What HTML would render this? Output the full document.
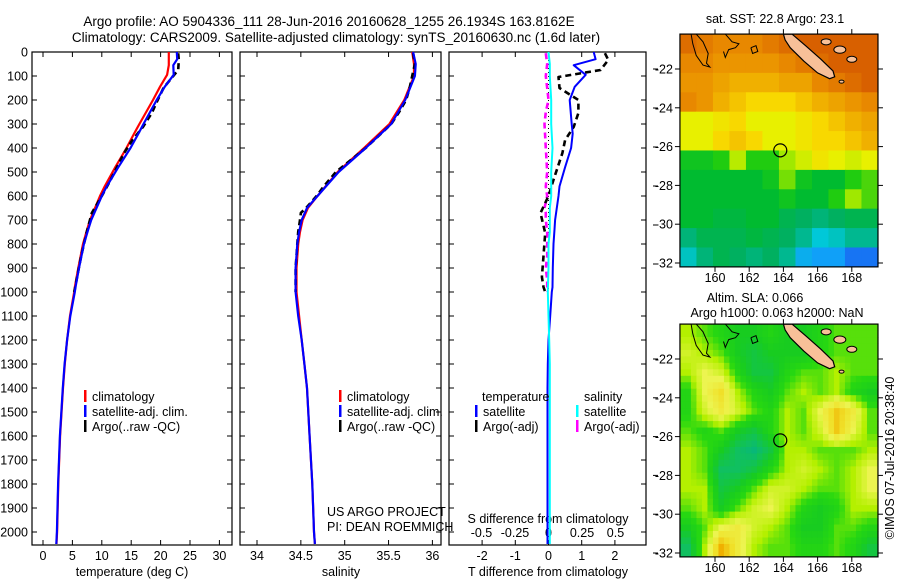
<!DOCTYPE html>
<html><head><meta charset="utf-8"><style>
html,body{margin:0;padding:0;background:#fff;}
svg{display:block;font-family:"Liberation Sans",sans-serif;}
</style></head><body>
<svg id="fig" width="900" height="580" viewBox="0 0 900 580" xmlns="http://www.w3.org/2000/svg">
<g font-size="13.5" text-anchor="middle">
<text x="329" y="26">Argo profile: AO 5904336_111 28-Jun-2016 20160628_1255 26.1934S 163.8162E</text>
<text x="336" y="42">Climatology: CARS2009. Satellite-adjusted climatology: synTS_20160630.nc (1.6d later)</text>
</g>
<g id="layer"></g>
</svg>
<script>
// ---- profile data ----
const tDepth = [0,30,55,95,145,200,300,340,400,480,560,600,700,740,800,900,980,1000,1100,1200,1300,1400,1600,1800,2000,2050];
const tempClim = [21.4,21.4,21.4,21.1,19.9,18.7,16.4,15.5,14.2,12.3,10.5,9.7,8.0,7.5,6.8,6.0,5.4,5.3,4.6,4.1,3.7,3.4,2.9,2.6,2.4,2.3];
const tDiffSat = [1.36,1.42,0.76,1.12,0.79,0.64,0.70,0.73,0.68,0.5,0.33,0.3,0.2,0.18,0.15,0.13,0.12,0.1,0.05,0.0,-0.02,-0.03,-0.03,-0.03,-0.03,-0.03];
const argoDepth = [5,33,75,104,150,200,254,312,367,421,533,600,671,754,850,937,979,1000];
const argoTemp = [23.0,23.1,23.0,22.0,20.5,19.5,18.5,17.0,15.2,13.8,11.5,10.0,8.3,7.4,6.5,5.8,5.5,5.3];
const argoTDiff = [1.7,1.8,1.57,0.3,0.33,0.9,0.9,0.76,0.5,0.42,0.15,0.0,-0.24,-0.1,-0.15,-0.2,-0.15,-0.1];
const sDepth = [0,50,100,200,300,400,500,600,650,700,750,800,900,1000,1100,1200,1300,1400,1600,1800,2000,2050];
const salClim = [35.77,35.79,35.79,35.68,35.51,35.22,34.92,34.69,34.58,34.52,34.49,34.47,34.45,34.45,34.48,34.51,34.54,34.57,34.60,34.63,34.65,34.66];
const salSat = [35.78,35.81,35.80,35.69,35.53,35.24,34.93,34.69,34.57,34.51,34.48,34.46,34.44,34.44,34.47,34.51,34.54,34.57,34.60,34.63,34.65,34.66];
const sDiffSat = [0.0,0.01,0.01,0.02,0.02,0.03,0.02,0.02,0.01,0.01,0.01,0.0,0.0,-0.005,0.0,0.005,0.01,0.01,0.01,0.01,0.01,0.01];
const argoSDepth = [5,50,100,150,200,250,300,400,500,560,600,650,670,700,750,800,850,900,950,1000];
const argoSal = [35.78,35.80,35.77,35.74,35.70,35.62,35.53,35.24,34.90,34.76,34.68,34.56,34.50,34.49,34.47,34.46,34.45,34.44,34.44,34.44];
const argoSDiff = [-0.02,-0.01,-0.02,-0.01,0.0,-0.02,-0.03,-0.02,-0.01,-0.02,-0.01,-0.03,-0.02,-0.02,-0.01,-0.01,-0.01,-0.02,-0.01,-0.01];
const depthTicks = [0,100,200,300,400,500,600,700,800,900,1000,1100,1200,1300,1400,1500,1600,1700,1800,1900,2000];
const tempTicks = [0,5,10,15,20,25,30];
const salTicks = [34,34.5,35,35.5,36];
const salTickLabels = ["34","34.5","35","35.5","36"];
const tdTicks = [-2,-1,0,1,2];
const sdTicks = [-0.5,-0.25,0,0.25,0.5];
const sdTickLabels = ["-0.5","-0.25","0","0.25","0.5"];
// ---- map data ----
const sstGrid = [
[23.7,23.6,23.5,23.5,23.5,23.6,23.7,23.8,23.8,23.8,23.8,23.8],
[23.5,23.5,23.4,23.4,23.4,23.4,23.5,23.6,23.7,23.8,23.8,23.8],
[23.4,23.4,23.3,23.2,23.2,23.2,23.3,23.3,23.5,23.6,23.7,23.8],
[23.5,23.4,23.2,23.1,23.0,23.0,23.0,23.1,23.2,23.3,23.4,23.5],
[22.8,22.8,22.9,23.0,22.8,22.8,22.8,22.9,23.0,23.1,23.2,23.3],
[22.8,22.8,23.0,23.1,23.0,22.8,22.8,22.9,23.0,23.0,23.1,23.2],
[22.1,22.1,22.2,22.6,22.2,22.2,22.5,22.7,22.9,22.8,22.7,22.8],
[22.0,22.0,22.0,22.0,22.0,22.1,22.4,22.1,22.0,22.0,22.2,22.3],
[22.0,22.0,22.0,22.0,22.0,22.0,22.1,22.0,22.0,22.2,22.5,22.3],
[22.0,22.0,21.9,21.9,22.0,22.0,21.8,21.7,21.6,21.7,21.8,21.8],
[21.6,21.8,21.8,21.8,21.9,21.8,21.7,21.5,21.2,21.3,21.5,21.5],
[21.3,21.6,21.8,21.7,21.6,21.7,21.5,21.0,20.9,20.9,20.7,20.7]];
const slaGrid = [
[0.07,0.06,0.05,0.04,0.04,0.05,0.04,0.04,0.05,0.06,0.06,0.06],
[0.08,0.07,0.06,0.04,0.03,0.04,0.04,0.04,0.05,0.06,0.06,0.06],
[0.07,0.09,0.08,0.05,0.03,0.03,0.05,0.06,0.06,0.07,0.06,0.06],
[0.05,0.09,0.11,0.07,0.05,0.04,0.06,0.07,0.06,0.07,0.05,0.04],
[0.05,0.08,0.10,0.08,0.06,0.05,0.07,0.06,0.09,0.12,0.10,0.06],
[0.06,0.05,0.06,0.04,0.03,0.05,0.07,0.06,0.08,0.12,0.09,0.06],
[0.07,0.06,0.04,0.02,0.01,0.03,0.07,0.07,0.06,0.06,0.06,0.07],
[0.07,0.06,0.02,0.02,0.03,0.05,0.07,0.08,0.07,0.06,0.07,0.09],
[0.07,0.07,0.03,0.04,0.06,0.08,0.08,0.07,0.06,0.06,0.07,0.09],
[0.06,0.07,0.04,0.06,0.08,0.09,0.07,0.05,0.04,0.05,0.07,0.07],
[0.04,0.06,0.09,0.10,0.08,0.07,0.06,0.04,0.04,0.06,0.06,0.05],
[0.02,0.07,0.13,0.10,0.07,0.06,0.06,0.05,0.05,0.06,0.05,0.03]];
const lonTicks = [160,162,164,166,168];
const latTicks = [-22,-24,-26,-28,-30,-32];
const argoLon = 163.8162, argoLat = -26.1934;

const NS = "http://www.w3.org/2000/svg";
const L = document.getElementById('layer');
function mk(tag, attrs, parent){ const e=document.createElementNS(NS,tag); for(const k in attrs) e.setAttribute(k,attrs[k]); (parent||L).appendChild(e); return e; }
function txt(x,y,s,size,anchor,parent){ const t=mk('text',{x:x,y:y,'font-size':size||12.5,'text-anchor':anchor||'middle'},parent); t.textContent=s; return t; }

const yD = d => 52 + d*0.24;
const PY0=52, PY1=545;
const panels = [
 {name:'temperature-panel', x0:32, x1:232, f:v=>43+v*5.88},
 {name:'salinity-panel', x0:240, x1:441, f:v=>257+(v-34)*87.7},
 {name:'difference-panel', x0:449, x1:646, f:v=>548.5+v*33.2}
];
const sdX = v => 548.5+v*134;

function line(xs, ds, fx, color, w, dash, name){
  let p=''; for(let i=0;i<xs.length;i++) p+=(i?'L':'M')+fx(xs[i]).toFixed(1)+','+yD(ds[i]).toFixed(1);
  const e=mk('path',{d:p,fill:'none',stroke:color,'stroke-width':w,'stroke-linejoin':'round'});
  if(dash) e.setAttribute('stroke-dasharray',dash);
  
  
}

panels.forEach((P,pi)=>{
  const g=mk('g',{});
  
  
  const r=mk('rect',{x:P.x0,y:PY0,width:P.x1-P.x0,height:PY1-PY0,fill:'#fff',stroke:'#000','stroke-width':1.2},g);
  
  
  depthTicks.forEach(d=>{
    mk('line',{x1:P.x0,x2:P.x0+5,y1:yD(d),y2:yD(d),stroke:'#000'},g);
    mk('line',{x1:P.x1,x2:P.x1-5,y1:yD(d),y2:yD(d),stroke:'#000'},g);
  });
});
depthTicks.forEach(d=>{
  const t=txt(28,yD(d)+4.5,String(d),12.5,'end');
  
  
});
latTicks.forEach((la,i)=>{ mk('line',{x1:653,x2:658,y1:69+i*39,y2:69+i*39,stroke:'#000'}); });
[0,1,2,3,4,5].forEach(i=>{ mk('line',{x1:653,x2:658,y1:359+i*38.8,y2:359+i*38.8,stroke:'#000'}); });

function xTicks(ticks, labels, fx, y, name){
  ticks.forEach((v,i)=>{
    const x=fx(v);
    mk('line',{x1:x,x2:x,y1:PY1,y2:PY1-5,stroke:'#000'});
    mk('line',{x1:x,x2:x,y1:PY0,y2:PY0+5,stroke:'#000'});
    const t=txt(x,y,labels[i],12.5,'middle');
    
    
  });
}
xTicks(tempTicks, tempTicks.map(String), panels[0].f, 560, 'temperature-tick-label');
xTicks(salTicks, salTickLabels, panels[1].f, 560, 'salinity-tick-label');
xTicks(tdTicks, tdTicks.map(String), panels[2].f, 560, 'tdiff-tick-label');
sdTicks.forEach((v,i)=>{
  const t=txt(sdX(v),537,sdTickLabels[i],12.5,'middle');
  
  
});
[['temperature (deg C)',132],['salinity',341],['T difference from climatology',548]].forEach(a=>{
  const t=txt(a[1],576,a[0],12.5,'middle');
  
  
});
{const t=txt(548,523,'S difference from climatology',12.5,'middle');

}

const tempSat = tempClim.map((v,i)=>v+tDiffSat[i]);
line(tempClim, tDepth, panels[0].f, '#f00', 2.2, null, 'temp-climatology-line');
line(argoTemp, argoDepth, panels[0].f, '#000', 2.6, '6,4', 'temp-argo-line');
line(tempSat, tDepth, panels[0].f, '#00f', 2.2, null, 'temp-satellite-line');
line(salClim, sDepth, panels[1].f, '#f00', 2.2, null, 'sal-climatology-line');
line(argoSal, argoSDepth, panels[1].f, '#000', 2.6, '6,4', 'sal-argo-line');
line(salSat, sDepth, panels[1].f, '#00f', 2.2, null, 'sal-satellite-line');
{const z=mk('line',{x1:548.5,x2:548.5,y1:PY0,y2:yD(1000),stroke:'#000','stroke-dasharray':'1,3'});

}
line(argoSDiff, argoSDepth, sdX, '#f0f', 2.6, '6,4', 'sdiff-argo-line');
line(argoTDiff, argoDepth, panels[2].f, '#000', 2.6, '6,4', 'tdiff-argo-line');
line(tDiffSat, tDepth, panels[2].f, '#00f', 2, null, 'tdiff-satellite-line');
line(sDiffSat, sDepth, sdX, '#0ff', 2, null, 'sdiff-satellite-line');

function leg(x,y,color,label){
  const g=mk('g',{});
  
  
  mk('rect',{x:x,y:y-11,width:2.5,height:12,fill:color},g);
  txt(x+8,y,label,12.5,'start',g);
}
[84,339].forEach(x=>{
  leg(x,401,'#f00','climatology');
  leg(x,416,'#00f','satellite-adj. clim.');
  leg(x,431,'#000','Argo(..raw -QC)');
});
{const t=txt(482,401,'temperature',12.5,'start');  }
{const t=txt(584,401,'salinity',12.5,'start');  }
leg(475,416,'#00f','satellite');
leg(475,431,'#000','Argo(-adj)');
leg(576,416,'#0ff','satellite');
leg(576,431,'#f0f','Argo(-adj)');
{const t=txt(327,516,'US ARGO PROJECT',12.5,'start');  }
{const t=txt(327,531,'PI: DEAN ROEMMICH',12.5,'start');  }

// ---- maps ----
const sstStops=[[20.6,[26,94,240]],[20.9,[16,160,248]],[21.2,[0,200,216]],[21.5,[0,184,144]],[21.7,[0,176,96]],[22.0,[0,187,48]],[22.2,[32,204,16]],[22.5,[160,232,0]],[22.8,[232,240,0]],[23.0,[248,216,0]],[23.2,[240,176,0]],[23.5,[232,136,0]],[23.8,[216,96,0]]];
const slaStops=[[0.0,[0,176,144]],[0.02,[16,192,96]],[0.04,[24,204,32]],[0.055,[40,216,16]],[0.07,[180,240,0]],[0.09,[236,244,80]],[0.11,[240,224,40]],[0.13,[240,176,0]],[0.15,[240,140,0]]];
function cmap(stops,v){
  if(v<=stops[0][0]) return 'rgb('+stops[0][1]+')';
  for(let i=1;i<stops.length;i++){ if(v<=stops[i][0]){ const a=stops[i-1],b=stops[i],t=(v-a[0])/(b[0]-a[0]); return 'rgb('+a[1].map((c,k)=>Math.round(c+(b[1][k]-c)*t)).join(',')+')'; } }
  return 'rgb('+stops[stops.length-1][1]+')';
}
function sample(grid, fr, fc){
  const R=grid.length, C=grid[0].length;
  fr=Math.max(0,Math.min(R-1,fr)); fc=Math.max(0,Math.min(C-1,fc));
  const r0=Math.floor(fr), c0=Math.floor(fc), r1=Math.min(R-1,r0+1), c1=Math.min(C-1,c0+1), tr=fr-r0, tc=fc-c0;
  return (grid[r0][c0]*(1-tc)+grid[r0][c1]*tc)*(1-tr)+(grid[r1][c0]*(1-tc)+grid[r1][c1]*tc)*tr;
}
const mX = lon => 715+(lon-160)*17.1;
function drawMap(oy, grid, stops, name, sub){
  const mY = lat => oy+69+(-22-lat)*19.4;
  const g=mk('g',{});
  
  
  const x0=mX(157.95), x1=mX(169.53), y0=mY(-20.2), y1=mY(-32.2);
  const R=grid.length*sub, C=grid[0].length*sub;
  const cw=(x1-x0)/C, ch=(y1-y0)/R;
  for(let r=0;r<R;r++) for(let c=0;c<C;c++){
    const v = sub===1 ? grid[r][c] : sample(grid,(r+0.5)/sub-0.5,(c+0.5)/sub-0.5);
    const cell=mk('rect',{x:(x0+c*cw).toFixed(2),y:(y0+r*ch).toFixed(2),width:(cw+0.6).toFixed(2),height:(ch+0.6).toFixed(2),fill:cmap(stops,v)},g);
    
    
  }
  const P=(pts)=>pts.map((p,i)=>(i?'L':'M')+mX(p[0]).toFixed(1)+','+mY(p[1]).toFixed(1)).join('');
  const cl=mk('path',{d:P([[158.9,-20.2],[159.3,-20.6],[159.6,-21.2],[159.5,-21.7],[159.7,-21.9],[159.3,-21.8],[158.9,-21.3],[158.7,-20.7],[158.6,-20.2]]),fill:'none',stroke:'#000','stroke-width':1},g);
   
  const cl2=mk('path',{d:P([[160.6,-20.2],[161.0,-20.6],[161.4,-20.7],[161.2,-20.9],[160.8,-21.0],[160.6,-21.4],[160.5,-21.1]]),fill:'none',stroke:'#000','stroke-width':1},g);
   
  const cl3=mk('path',{d:P([[162.1,-20.9],[162.4,-20.8],[162.5,-21.1],[162.2,-21.2],[162.1,-20.9]]),fill:'none',stroke:'#000','stroke-width':1},g);
   
  const nc=mk('path',{d:P([[164.0,-20.2],[164.5,-20.2],[165.3,-20.8],[166.2,-21.5],[166.9,-22.1],[167.0,-22.4],[166.7,-22.5],[166.0,-22.2],[165.2,-21.6],[164.4,-20.9],[164.1,-20.5]])+'Z',fill:'#f8c098',stroke:'#000','stroke-width':1.2},g);
   
  [[166.5,-20.6,5],[167.3,-21.0,6],[168.0,-21.5,5],[167.4,-22.65,2.5]].forEach(b=>{
    const isl=mk('ellipse',{cx:mX(b[0]),cy:mY(b[1]),rx:b[2],ry:b[2]*0.6,fill:'#f8c098',stroke:'#000','stroke-width':1},g);
     
  });
  const fr=mk('rect',{x:x0,y:y0,width:x1-x0,height:y1-y0,fill:'none',stroke:'#000','stroke-width':1.2},g);
   
  lonTicks.forEach(lo=>{
    mk('line',{x1:mX(lo),x2:mX(lo),y1:y0,y2:y0-5,stroke:'#000'},g);
    mk('line',{x1:mX(lo),x2:mX(lo),y1:y1,y2:y1+5,stroke:'#000'},g);
    const t=txt(mX(lo),y1+15,String(lo),12.5,'middle',g);
     
  });
  latTicks.forEach(la=>{
    mk('line',{x1:x0,x2:x0-5,y1:mY(la),y2:mY(la),stroke:'#000'},g);
    mk('line',{x1:x1,x2:x1+5,y1:mY(la),y2:mY(la),stroke:'#000'},g);
    const t=txt(x0-7,mY(la)+4.5,String(la),12.5,'end',g);
     
  });
  const c=mk('circle',{cx:mX(argoLon),cy:mY(argoLat),r:6.5,fill:'none',stroke:'#000','stroke-width':1.2},g);
   
}
drawMap(0, sstGrid, sstStops, 'sst-map', 1);
drawMap(290, slaGrid, slaStops, 'sla-map', 3);
{const t=txt(775,23,'sat. SST: 22.8 Argo: 23.1',12.5,'middle');  }
{const t=txt(755,302,'Altim. SLA: 0.066',12.5,'middle');  }
{const t=txt(777,317,'Argo h1000: 0.063 h2000: NaN',12.5,'middle');  }
{const t=txt(0,0,'©IMOS 07-Jul-2016 20:38:40',12.5,'middle'); t.setAttribute('transform','translate(894,458) rotate(-90)');  }
</script>
</body></html>
